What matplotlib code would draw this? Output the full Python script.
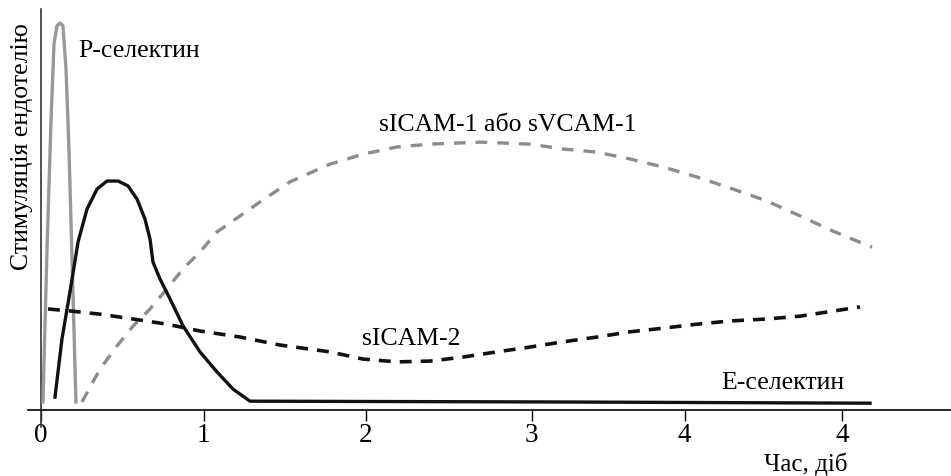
import matplotlib
matplotlib.use("Agg")
import matplotlib.pyplot as plt

plt.rcParams["font.family"] = ["Liberation Serif", "DejaVu Serif"]

# time in days, stimulation in arbitrary units (0..100)
P_SEL_X = [0.012, 0.037, 0.062, 0.080, 0.098, 0.117, 0.135, 0.154, 0.172, 0.191, 0.215]
P_SEL_Y = [2.0, 40.1, 72.6, 91.3, 95.8, 96.5, 95.8, 85.0, 65.1, 37.7, 2.0]

E_SEL_X = [0.086, 0.129, 0.178, 0.228, 0.283, 0.345, 0.406, 0.474, 0.535, 0.591, 0.640,
           0.671, 0.689, 0.732, 0.794, 0.874, 0.978, 1.083, 1.182, 1.286, 3.194, 5.102]
E_SEL_Y = [3.2, 17.7, 29.4, 41.9, 50.1, 55.1, 57.1, 57.1, 55.9, 52.6, 47.6,
           42.6, 36.9, 32.7, 27.7, 21.0, 14.5, 9.5, 5.2, 2.2, 2.0, 1.7]

ICAM1_X = [0.252, 0.363, 0.468, 0.566, 0.671, 0.775, 0.874, 0.978, 1.083, 1.225, 1.348,
           1.532, 1.778, 1.982, 2.191, 2.394, 2.702, 3.009, 3.212, 3.422, 3.625, 3.828,
           4.037, 4.258, 4.468, 4.671, 4.874, 5.114]
ICAM1_Y = [2.0, 10.2, 16.0, 20.9, 25.2, 30.2, 35.2, 39.4, 44.4, 48.4, 51.9,
           56.9, 61.3, 63.8, 65.6, 66.3, 66.8, 66.3, 65.1, 64.3, 62.6, 60.6,
           58.1, 55.1, 52.1, 48.4, 44.6, 40.6]

ICAM2_X = [0.043, 0.178, 0.363, 0.566, 0.775, 0.978, 1.225, 1.471, 1.778, 1.982, 2.191,
           2.394, 2.597, 2.806, 3.009, 3.212, 3.422, 3.625, 3.828, 4.037, 4.240, 4.468,
           4.671, 5.040]
ICAM2_Y = [25.2, 24.7, 23.9, 22.7, 21.4, 19.7, 18.2, 16.2, 14.5, 12.7, 12.0,
           12.2, 13.2, 14.5, 15.7, 17.0, 18.2, 19.5, 20.4, 21.4, 22.2, 22.7,
           23.4, 25.7]

TICK_POS = [0, 1, 2, 3.02, 3.96, 4.93]
TICK_LABELS = ["0", "1", "2", "3", "4", "4"]

W, H = 951, 477
fig = plt.figure(figsize=(W / 100, H / 100), dpi=100)
ax = fig.add_axes([28 / W, 66 / H, 1 - 28 / W, (411 - 10) / H])
ax.set_xlim((28 - 41) / 162.5, (951 - 41) / 162.5)
ax.set_ylim(0, 100)

for s in ("top", "right", "left"):
    ax.spines[s].set_visible(False)
ax.spines["bottom"].set_linewidth(1.2)
ax.set_yticks([])
ax.set_xticks(TICK_POS)
ax.set_xticklabels(TICK_LABELS, fontsize=19.5)
ax.tick_params(axis="x", direction="out", length=8, width=1.0, pad=1)

# vertical axis
ax.plot([0, 0], [-4.2, 100], color="#333333", lw=1.2, clip_on=False)

ax.plot(P_SEL_X, P_SEL_Y, color="#999999", lw=2.4, solid_joinstyle="round")
ax.plot(ICAM1_X, ICAM1_Y, color="#8c8c8c", lw=2.4, dashes=(3.5, 3.0))
ax.plot(ICAM2_X, ICAM2_Y, color="#111111", lw=2.6, dashes=(3.3, 2.5))
ax.plot(E_SEL_X, E_SEL_Y, color="#111111", lw=2.4)

lab = dict(fontsize=18.5, va="baseline", ha="left")
ax.text(0.228, 88.4, "P-селектин", **lab)
ax.text(2.080, 69.8, "sICAM-1 або sVCAM-1", **lab)
ax.text(1.975, 16.5, "sICAM-2", **lab)
ax.text(4.185, 5.5, "E-селектин", **lab)
ax.text(4.96, -13.2, "Час, діб", fontsize=18, va="center", ha="right", clip_on=False)

fig.text(22.5 / W, 1 - 147 / H, "Стимуляція ендотелію", fontsize=18.5,
         rotation=90, ha="center", va="center")

fig.savefig("out.png", dpi=100)
